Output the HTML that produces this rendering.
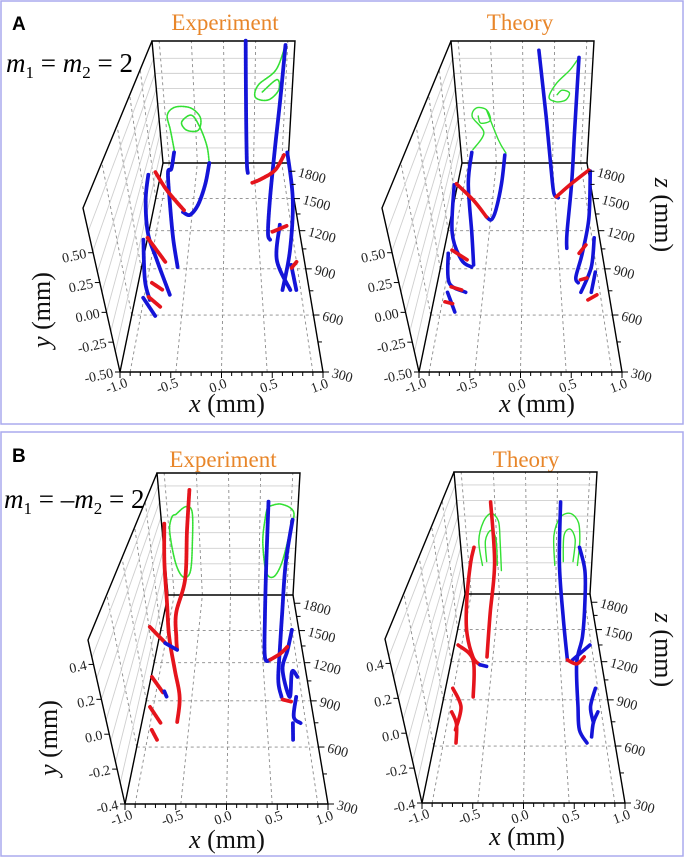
<!DOCTYPE html>
<html><head><meta charset="utf-8">
<style>
html,body{margin:0;padding:0;background:#fff;}
svg{display:block;}
svg text{font-family:"Liberation Serif",serif;}
</style></head>
<body>
<svg id="fig" width="685" height="858" viewBox="0 0 685 858" xmlns="http://www.w3.org/2000/svg" font-family="Liberation Serif, serif">
<rect x="0" y="0" width="685" height="858" fill="#fff"/>
<rect x="1" y="1" width="682" height="423" fill="none" stroke="#aaaaee" stroke-width="1.5"/>
<rect x="1" y="432" width="682" height="424" fill="none" stroke="#aaaaee" stroke-width="1.5"/>
<text x="12" y="30" style="font-family:'Liberation Sans',sans-serif" font-weight="bold" font-size="19">A</text>
<text x="12" y="462" style="font-family:'Liberation Sans',sans-serif" font-weight="bold" font-size="19">B</text>
<text x="225" y="30" text-anchor="middle" font-size="23" fill="#e8862a">Experiment</text>
<text x="520" y="30" text-anchor="middle" font-size="23" fill="#e8862a">Theory</text>
<text x="223" y="467" text-anchor="middle" font-size="23" fill="#e8862a">Experiment</text>
<text x="526" y="467" text-anchor="middle" font-size="23" fill="#e8862a">Theory</text>
<text x="6" y="72" font-size="27" xml:space="preserve"><tspan font-style="italic">m</tspan><tspan font-size="17" dy="6">1</tspan><tspan dy="-6"> = </tspan><tspan font-style="italic">m</tspan><tspan font-size="17" dy="6">2</tspan><tspan dy="-6"> = 2</tspan></text>
<text x="4" y="508" font-size="27" xml:space="preserve"><tspan font-style="italic">m</tspan><tspan font-size="17" dy="6">1</tspan><tspan dy="-6"> = –</tspan><tspan font-style="italic">m</tspan><tspan font-size="17" dy="6">2</tspan><tspan dy="-6"> = 2</tspan></text>
<g id="plots"></g>
</svg>
<script>
const xTicks = [-1.0, -0.5, 0.0, 0.5, 1.0];
const zTicks = [300, 600, 900, 1200, 1500, 1800];
const yTicksA = [-0.5, -0.25, 0.0, 0.25, 0.5];
const yTicksB = [-0.4, -0.2, 0.0, 0.2, 0.4];
const yGridA = [-0.33, -0.16, 0.0, 0.17, 0.34, 0.51, 0.68];
const yGridB = [-0.28, -0.16, -0.04, 0.08, 0.2, 0.32, 0.44];
const xGrid = [-0.9, -0.45, 0, 0.45, 0.9];
const zGrid = [600, 900, 1200, 1500];

// Panel A experiment
const aExpGreenL = [[-0.80,-0.38,1900],[-0.84,-0.13,1900],[-0.87,0.04,1900],[-0.74,0.13,1900],[-0.51,0.12,1900],[-0.37,0.01,1900],[-0.41,-0.13,1900],[-0.59,-0.13,1900],[-0.66,-0.04,1900],[-0.51,0.04,1900],[-0.40,-0.07,1900],[-0.29,-0.30,1900],[-0.26,-0.5,1900]];
const aExpBlueL1 = [[-0.81,-0.38,1900],[-0.85,-0.5,1830],[-0.89,-0.5,1780],[-0.77,-0.5,1416],[-0.66,-0.5,1124],[-0.56,-0.5,913]];
const aExpBlueL2 = [[-0.26,-0.5,1900],[-0.30,-0.5,1645],[-0.38,-0.5,1437],[-0.48,-0.5,1341],[-0.58,-0.5,1368]];
const aExpRedL1 = [[-0.57,-0.5,1386],[-0.72,-0.5,1487],[-0.89,-0.5,1611],[-1.09,-0.5,1790]];
const aExpBlueL3 = [[-1.19,-0.5,1758],[-1.14,-0.5,1487],[-1.01,-0.5,1181],[-0.83,-0.5,966],[-0.61,-0.5,724]];
const aExpBlueL4 = [[-1.05,-0.5,1124],[-0.93,-0.5,823],[-0.83,-0.5,692]];
const aExpRedL2 = [[-1.0,-0.5,1140],[-0.72,-0.5,951]];
const aExpRedL3 = [[-0.84,-0.5,803],[-0.70,-0.5,755]];
const aExpRedL4 = [[-0.85,-0.5,711],[-0.70,-0.5,649]];
const aExpBlueL5 = [[-0.91,-0.5,705],[-0.74,-0.5,595]];
const aExpBlueR1 = [[0.31,0.88,1900],[0.32,0.21,1900],[0.34,-0.47,1900],[0.35,-0.5,1780]];
const aExpGreenR = [[0.87,0.83,1900],[0.75,0.55,1900],[0.50,0.38,1900],[0.46,0.24,1900],[0.65,0.21,1900],[0.80,0.32,1900],[0.77,0.44,1900],[0.56,0.30,1900]];
const aExpBlueR2 = [[0.87,0.83,1900],[0.83,0.21,1900],[0.78,-0.35,1900],[0.65,-0.5,1487],[0.58,-0.5,1181],[0.60,-0.5,1124]];
const aExpRedR1 = [[0.41,-0.5,1668],[0.56,-0.5,1713],[0.78,-0.5,1814],[0.93,-0.41,1900]];
const aExpBlueR3 = [[0.98,-0.38,1900],[0.98,-0.5,1487],[0.84,-0.5,1041],[0.69,-0.5,755]];
const aExpBlueR4 = [[0.75,-0.5,1251],[0.66,-0.5,966],[0.78,-0.5,755]];
const aExpBlueR5 = [[0.83,-0.5,929],[0.85,-0.5,755]];
const aExpRedR2 = [[0.64,-0.5,1190],[0.84,-0.5,1242]];
const aExpRedR3 = [[0.83,-0.5,907],[0.90,-0.5,951]];

// Panel A theory
const aTheGreenL = [[-0.81,-0.35,1900],[-0.62,-0.16,1900],[-0.78,0.02,1900],[-0.71,0.12,1900],[-0.56,0.10,1900],[-0.51,-0.02,1900],[-0.66,-0.05,1900],[-0.69,0.03,1900]];
const aTheGreenL2 = [[-0.56,0.10,1900],[-0.40,-0.24,1900],[-0.29,-0.39,1900]];
const aTheBlueL1 = [[-0.83,-0.38,1900],[-0.84,-0.5,1656],[-0.68,-0.5,1181],[-0.60,-0.5,929]];
const aTheBlueL2 = [[-0.31,-0.41,1900],[-0.34,-0.5,1656],[-0.39,-0.5,1386],[-0.44,-0.5,1296],[-0.51,-0.5,1323]];
const aTheRedL1 = [[-0.51,-0.5,1323],[-0.73,-0.5,1487],[-1.02,-0.5,1656]];
const aTheBlueL3 = [[-1.05,-0.5,1645],[-0.94,-0.5,1181],[-0.76,-0.5,966],[-0.62,-0.5,913]];
const aTheRedL2 = [[-0.90,-0.5,1041],[-0.69,-0.5,966]];
const aTheBlueL4 = [[-0.94,-0.5,1016],[-0.86,-0.5,803],[-0.65,-0.5,740]];
const aTheRedL3 = [[-0.83,-0.5,776],[-0.70,-0.5,755]];
const aTheBlueL5 = [[-0.86,-0.5,740],[-0.74,-0.5,618]];
const aTheRedL4 = [[-0.87,-0.5,680],[-0.78,-0.5,668]];
const aTheBlueR1 = [[0.23,0.77,1900],[0.34,0.02,1900],[0.42,-0.5,1840],[0.44,-0.5,1555],[0.50,-0.5,1508]];
const aTheGreenR = [[0.80,0.69,1900],[0.68,0.55,1900],[0.49,0.40,1900],[0.38,0.24,1900],[0.49,0.19,1900],[0.63,0.21,1900],[0.68,0.29,1900],[0.57,0.32,1900],[0.50,0.27,1900]];
const aTheBlueR2 = [[0.80,0.69,1900],[0.78,-0.16,1900],[0.72,-0.5,1675],[0.58,-0.5,1181],[0.56,-0.5,1055]];
const aTheRedR1 = [[0.47,-0.5,1518],[0.71,-0.5,1656],[1.01,-0.5,1814]];
const aTheBlueR3 = [[1.03,-0.5,1803],[0.90,-0.5,1314],[0.75,-0.5,1016],[0.64,-0.5,843],[0.66,-0.5,803]];
const aTheRedR2 = [[0.71,-0.5,1016],[0.81,-0.5,1082]];
const aTheBlueR4 = [[0.93,-0.5,1140],[0.84,-0.5,913],[0.68,-0.5,740]];
const aTheRedR3 = [[0.69,-0.5,823],[0.77,-0.5,836]];
const aTheBlueR5 = [[0.88,-0.5,877],[0.80,-0.5,740]];
const aTheRedR4 = [[0.75,-0.5,692],[0.86,-0.5,724]];

// Panel B experiment
const bExpGreenL = [[-0.78,0.22,1900],[-0.63,0.28,1900],[-0.54,0.24,1900],[-0.56,0.01,1900],[-0.62,-0.22,1900],[-0.74,-0.26,1900],[-0.84,-0.15,1900],[-0.89,0.09,1900],[-0.84,0.20,1900],[-0.78,0.22,1900]];
const bExpRedL2 = [[-0.56,0.41,1900],[-0.63,0.10,1900],[-0.71,-0.28,1900],[-0.82,-0.4,1690],[-0.76,-0.4,1437],[-0.72,-0.4,1314]];
const bExpRedL1 = [[-0.96,0.15,1900],[-1.01,-0.15,1900],[-0.99,-0.4,1803],[-0.86,-0.4,1437],[-0.71,-0.4,1140],[-0.60,-0.4,929],[-0.59,-0.4,755]];
const bExpBlueL1 = [[-0.90,-0.4,1377],[-0.72,-0.4,1314]];
const bExpRedL3 = [[-1.17,-0.4,1538],[-0.91,-0.4,1386]];
const bExpRedL4 = [[-0.99,-0.4,1082],[-0.81,-0.4,959]];
const bExpRedL5 = [[-0.94,-0.4,857],[-0.78,-0.4,748]];
const bExpRedL6 = [[-0.87,-0.4,705],[-0.79,-0.4,643]];
const bExpBlueL2 = [[-0.80,-0.4,970],[-0.76,-0.4,930]];
const bExpGreenR = [[0.56,0.28,1900],[0.75,0.30,1900],[0.94,0.24,1900],[0.90,0.09,1900],[0.80,-0.15,1900],[0.68,-0.26,1900],[0.56,-0.22,1900],[0.50,0.01,1900],[0.53,0.20,1900],[0.56,0.28,1900]];
const bExpBlueR1 = [[0.57,0.32,1900],[0.56,-0.15,1900],[0.53,-0.4,1690],[0.48,-0.4,1251],[0.55,-0.4,1226]];
const bExpRedR1 = [[0.55,-0.4,1226],[0.69,-0.4,1278],[0.80,-0.4,1341]];
const bExpBlueR2 = [[0.93,0.18,1900],[0.86,-0.15,1900],[0.79,-0.4,1690],[0.70,-0.4,1341],[0.63,-0.4,1055],[0.65,-0.4,929]];
const bExpBlueR3 = [[0.90,-0.4,1508],[0.80,-0.4,1314],[0.70,-0.4,1140],[0.75,-0.4,929],[0.82,-0.4,1124],[0.88,-0.4,1082]];
const bExpBlueR4 = [[0.83,-0.4,929],[0.77,-0.4,789],[0.84,-0.4,748]];
const bExpBlueR5 = [[0.75,-0.4,748],[0.73,-0.4,643]];
const bExpRedR2 = [[0.66,-0.4,910],[0.76,-0.4,895]];

// Panel B theory
const bTheRedL1 = [[-0.51,0.31,1900],[-0.50,-0.16,1900],[-0.56,-0.4,1679],[-0.53,-0.4,1242]];
const bTheRedL2 = [[-0.80,-0.04,1900],[-0.87,-0.16,1900],[-0.96,-0.4,1870],[-0.87,-0.4,1497],[-0.72,-0.4,1242],[-0.61,-0.4,1173]];
const bTheBlueL1 = [[-0.61,-0.4,1173],[-0.52,-0.4,1160]];
const bTheRedL3 = [[-0.95,-0.4,1350],[-0.71,-0.4,1215],[-0.64,-0.4,921]];
const bTheRedL4 = [[-0.91,-0.4,985],[-0.77,-0.4,850],[-0.79,-0.4,698]];
const bTheRedL5 = [[-0.87,-0.4,816],[-0.79,-0.4,735],[-0.76,-0.4,618]];
const bTheGreenL1 = [[-0.69,-0.18,1900],[-0.72,0.01,1900],[-0.63,0.16,1900],[-0.51,0.22,1900],[-0.41,0.16,1900],[-0.40,0.01,1900],[-0.40,-0.22,1900]];
const bTheGreenL2 = [[-0.62,-0.15,1900],[-0.62,0.01,1900],[-0.53,0.09,1900],[-0.46,0.02,1900],[-0.46,-0.18,1900]];
const bTheBlueR1 = [[0.50,0.31,1900],[0.50,-0.16,1900],[0.54,-0.4,1655],[0.55,-0.4,1215]];
const bTheRedR1 = [[0.55,-0.4,1215],[0.67,-0.4,1181],[0.78,-0.4,1242]];
const bTheBlueR2 = [[0.80,-0.04,1900],[0.90,-0.22,1900],[0.90,-0.4,1803],[0.79,-0.4,1426],[0.67,-0.4,1190],[0.63,-0.4,850],[0.62,-0.4,698],[0.69,-0.4,618]];
const bTheBlueR3 = [[0.62,-0.4,1215],[0.88,-0.4,1350]];
const bTheBlueR4 = [[0.87,-0.4,985],[0.78,-0.4,850],[0.79,-0.4,745]];
const bTheBlueR5 = [[0.86,-0.4,816],[0.79,-0.4,745],[0.75,-0.4,655]];
const bTheGreenR1 = [[0.43,-0.18,1900],[0.41,0.05,1900],[0.50,0.19,1900],[0.65,0.22,1900],[0.77,0.15,1900],[0.80,0.01,1900],[0.78,-0.18,1900]];
const bTheGreenR2 = [[0.56,-0.15,1900],[0.56,0.05,1900],[0.65,0.10,1900],[0.73,0.02,1900],[0.71,-0.15,1900]];

const BLUE = "#1414d8", RED = "#e5141c", GREEN = "#33e033";
const SERIF = "Liberation Serif, serif";
const NS = "http://www.w3.org/2000/svg";
const root = document.getElementById("plots");

function mk(tag, attrs, parent) {
  const e = document.createElementNS(NS, tag);
  for (const k in attrs) e.setAttribute(k, attrs[k]);
  parent.appendChild(e);
  return e;
}
function tsp(parent, txt, italic) {
  const t = mk("tspan", italic ? {"font-style": "italic"} : {}, parent);
  t.textContent = txt;
  return t;
}

function makeProj(box) {
  const FB = [[120,372],[323,372],[83,208],[360,208]];
  const BB = [[163,163],[288,163],[152,41],[295,41]];
  const k = 0.00039, zMin = 300;
  const gMax = 1 - 1 / (1 + k * (1900 - zMin));
  return function (x, y, z) {
    const f = 1 / (1 + k * (z - zMin));
    const g = (1 - f) / gMax;
    const u = (x + 1) / 2;
    const v = (y - box.ymin) / (box.ymax - box.ymin);
    function face(C) {
      const bx = C[0][0] + (C[1][0] - C[0][0]) * u, by = C[0][1] + (C[1][1] - C[0][1]) * u;
      const tx = C[2][0] + (C[3][0] - C[2][0]) * u, ty = C[2][1] + (C[3][1] - C[2][1]) * u;
      return [bx + (tx - bx) * v, by + (ty - by) * v];
    }
    const p = face(FB), q = face(BB);
    return [box.dx + p[0] + (q[0] - p[0]) * g, box.dy + p[1] + (q[1] - p[1]) * g];
  };
}

function smoothPath(pts) {
  if (pts.length < 3) return "M" + pts.map(p => p[0].toFixed(1) + "," + p[1].toFixed(1)).join("L");
  let d = "M" + pts[0][0].toFixed(1) + "," + pts[0][1].toFixed(1);
  for (let i = 0; i < pts.length - 1; i++) {
    const p0 = pts[Math.max(0, i - 1)], p1 = pts[i], p2 = pts[i + 1], p3 = pts[Math.min(pts.length - 1, i + 2)];
    const c1 = [p1[0] + (p2[0] - p0[0]) / 6, p1[1] + (p2[1] - p0[1]) / 6];
    const c2 = [p2[0] - (p3[0] - p1[0]) / 6, p2[1] - (p3[1] - p1[1]) / 6];
    d += "C" + c1[0].toFixed(1) + "," + c1[1].toFixed(1) + " " + c2[0].toFixed(1) + "," + c2[1].toFixed(1) + " " + p2[0].toFixed(1) + "," + p2[1].toFixed(1);
  }
  return d;
}

function line(g, P, a, b, style) {
  const p = P(a[0], a[1], a[2]), q = P(b[0], b[1], b[2]);
  const attrs = Object.assign({x1: p[0], y1: p[1], x2: q[0], y2: q[1]}, style);
  return mk("line", attrs, g);
}

const boxes = [
  {id: "a-experiment", dx: 0, dy: 0, ymin: -0.5, ymax: 0.875, yTicks: yTicksA, yGrid: yGridA, exp: true, yTitle: [50, 310], zTitle: null, xTitle: [227, 412],
   traces: [[aExpGreenL, GREEN], [aExpGreenR, GREEN], [aExpBlueL1, BLUE], [aExpBlueL2, BLUE], [aExpBlueL3, BLUE], [aExpBlueL4, BLUE], [aExpBlueL5, BLUE], [aExpRedL1, RED], [aExpRedL2, RED], [aExpRedL3, RED], [aExpRedL4, RED],
            [aExpBlueR1, BLUE], [aExpBlueR2, BLUE], [aExpBlueR3, BLUE], [aExpBlueR4, BLUE], [aExpBlueR5, BLUE], [aExpRedR1, RED], [aExpRedR2, RED], [aExpRedR3, RED]]},
  {id: "a-theory", dx: 299, dy: 0, ymin: -0.5, ymax: 0.875, yTicks: yTicksA, yGrid: yGridA, exp: false, yTitle: null, zTitle: [655, 215], xTitle: [537, 412],
   traces: [[aTheGreenL, GREEN], [aTheGreenL2, GREEN], [aTheGreenR, GREEN], [aTheBlueL1, BLUE], [aTheBlueL2, BLUE], [aTheBlueL3, BLUE], [aTheBlueL4, BLUE], [aTheBlueL5, BLUE], [aTheRedL1, RED], [aTheRedL2, RED], [aTheRedL3, RED], [aTheRedL4, RED],
            [aTheBlueR1, BLUE], [aTheBlueR2, BLUE], [aTheBlueR3, BLUE], [aTheBlueR4, BLUE], [aTheBlueR5, BLUE], [aTheRedR1, RED], [aTheRedR2, RED], [aTheRedR3, RED], [aTheRedR4, RED]]},
  {id: "b-experiment", dx: 5, dy: 432, ymin: -0.4, ymax: 0.54, yTicks: yTicksB, yGrid: yGridB, exp: true, yTitle: [57, 738], zTitle: null, xTitle: [227, 848],
   traces: [[bExpGreenL, GREEN], [bExpGreenR, GREEN], [bExpRedL1, RED], [bExpRedL2, RED], [bExpRedL3, RED], [bExpRedL4, RED], [bExpRedL5, RED], [bExpRedL6, RED], [bExpBlueL1, BLUE], [bExpBlueL2, BLUE],
            [bExpBlueR1, BLUE], [bExpBlueR2, BLUE], [bExpBlueR3, BLUE], [bExpBlueR4, BLUE], [bExpBlueR5, BLUE], [bExpRedR1, RED], [bExpRedR2, RED]]},
  {id: "b-theory", dx: 302, dy: 431, ymin: -0.4, ymax: 0.54, yTicks: yTicksB, yGrid: yGridB, exp: false, yTitle: null, zTitle: [655, 650], xTitle: [527, 845],
   traces: [[bTheGreenL1, GREEN], [bTheGreenL2, GREEN], [bTheGreenR1, GREEN], [bTheGreenR2, GREEN], [bTheRedL1, RED], [bTheRedL2, RED], [bTheRedL3, RED], [bTheRedL4, RED], [bTheRedL5, RED], [bTheBlueL1, BLUE],
            [bTheBlueR1, BLUE], [bTheBlueR2, BLUE], [bTheBlueR3, BLUE], [bTheBlueR4, BLUE], [bTheBlueR5, BLUE], [bTheRedR1, RED]]}
];

boxes.forEach(box => {
  const P = makeProj(box);
  const g = mk("g", {}, root);
  
  
  const y0 = box.ymin, y1 = box.ymax;
  const dash = {stroke: "#8a8a8a", "stroke-width": 0.9, "stroke-dasharray": "3,3"};
  const light = {stroke: "#cfcfcf", "stroke-width": 0.9};
  const grid = mk("g", {}, g);
  
  
  zGrid.forEach(z => { line(grid, P, [-1, y0, z], [1, y0, z], dash); line(grid, P, [-1, y0, z], [-1, y1, z], dash); });
  xGrid.forEach(x => { line(grid, P, [x, y0, 300], [x, y0, 1900], dash); line(grid, P, [x, y0, 1900], [x, y1, 1900], dash); });
  box.yGrid.forEach(y => { line(grid, P, [-1, y, 1900], [1, y, 1900], light); line(grid, P, [-1, y, 300], [-1, y, 1900], light); });

  const frame = mk("g", {fill: "none", stroke: "#000", "stroke-width": 1.4}, g);
  
  
  const seq = (arr) => mk("polyline", {points: arr.map(a => P(a[0], a[1], a[2]).map(v => v.toFixed(1)).join(",")).join(" ")}, frame);
  seq([[-1, y0, 1900], [1, y0, 1900], [1, y1, 1900], [-1, y1, 1900], [-1, y0, 1900]]);
  seq([[-1, y1, 1900], [-1, y1, 300], [-1, y0, 300], [-1, y0, 1900]]);
  seq([[-1, y0, 300], [1, y0, 300], [1, y0, 1900]]);

  const tg = mk("g", {fill: "none", "stroke-linecap": "round", "stroke-linejoin": "round"}, g);
  
  
  box.traces.forEach((tr, i) => {
    const pts = tr[0].map(p => P(p[0], p[1], p[2]));
    const col = tr[1];
    const isGreen = col === GREEN;
    const attrs = {d: smoothPath(pts), stroke: col};
    if (isGreen) { attrs["stroke-width"] = box.exp ? 1.6 : 1.4; if (box.exp) attrs["stroke-dasharray"] = "1.5,1"; }
    else { attrs["stroke-width"] = box.exp ? 3.8 : 3.6; if (box.exp) attrs["stroke-dasharray"] = "2.5,0.8"; }
    const el = mk("path", attrs, tg);
    
    
  });

  const ax = mk("g", {}, g);
  
  
  for (let i = 0; i <= 20; i++) {
    const x = -1 + i * 0.1;
    const p = P(x, y0, 300);
    const len = (i % 5 === 0) ? 6 : 4;
    mk("line", {x1: p[0], y1: p[1], x2: p[0], y2: p[1] + len, stroke: "#000", "stroke-width": 1}, ax);
  }
  xTicks.forEach(x => {
    const p = P(x, y0, 300);
    const t = mk("text", {x: p[0] - 2, y: p[1] + 18, "text-anchor": "middle", "font-family": SERIF, "font-size": 14, fill: "#222", transform: `rotate(-20 ${p[0] - 2} ${p[1] + 18})`}, ax);
    t.textContent = x.toFixed(1);
    
    
  });
  const az = mk("g", {}, g);
  
  
  for (let z = 300; z <= 1800; z += 150) {
    const p = P(1, y0, z);
    const major = zTicks.includes(z);
    mk("line", {x1: p[0], y1: p[1], x2: p[0] + (major ? 6 : 4), y2: p[1], stroke: "#000", "stroke-width": 1}, az);
  }
  zTicks.forEach(z => {
    const p = P(1, y0, z);
    const t = mk("text", {x: p[0] + 8, y: p[1] + 5, "font-family": SERIF, "font-size": 14, fill: "#222", transform: `rotate(15 ${p[0] + 8} ${p[1] + 5})`}, az);
    t.textContent = String(z);
    
    
  });
  const ay = mk("g", {}, g);
  
  
  box.yTicks.forEach(y => {
    const p = P(-1, y, 300);
    mk("line", {x1: p[0], y1: p[1], x2: p[0] - 5, y2: p[1], stroke: "#000", "stroke-width": 1}, ay);
    const t = mk("text", {x: p[0] - 6, y: p[1] + 5, "text-anchor": "end", "font-family": SERIF, "font-size": 14, fill: "#222", transform: `rotate(-12 ${p[0] - 6} ${p[1] + 5})`}, ay);
    t.textContent = (box.ymin === -0.5) ? y.toFixed(2) : y.toFixed(1);
    
    
  });
  const xt = mk("text", {x: box.xTitle[0], y: box.xTitle[1], "text-anchor": "middle", "font-family": SERIF, "font-size": 26, fill: "#111"}, g);
  tsp(xt, "x", true); tsp(xt, " (mm)", false);
  
  
  if (box.yTitle) {
    const yt = mk("text", {x: box.yTitle[0], y: box.yTitle[1], "text-anchor": "middle", "font-family": SERIF, "font-size": 26, fill: "#111", transform: `rotate(-90 ${box.yTitle[0]} ${box.yTitle[1]})`}, g);
    tsp(yt, "y", true); tsp(yt, " (mm)", false);
    
    
  }
  if (box.zTitle) {
    const zt = mk("text", {x: box.zTitle[0], y: box.zTitle[1], "text-anchor": "middle", "font-family": SERIF, "font-size": 26, fill: "#111", transform: `rotate(90 ${box.zTitle[0]} ${box.zTitle[1]})`}, g);
    tsp(zt, "z", true); tsp(zt, " (mm)", false);
    
    
  }
});
</script>
</body></html>
